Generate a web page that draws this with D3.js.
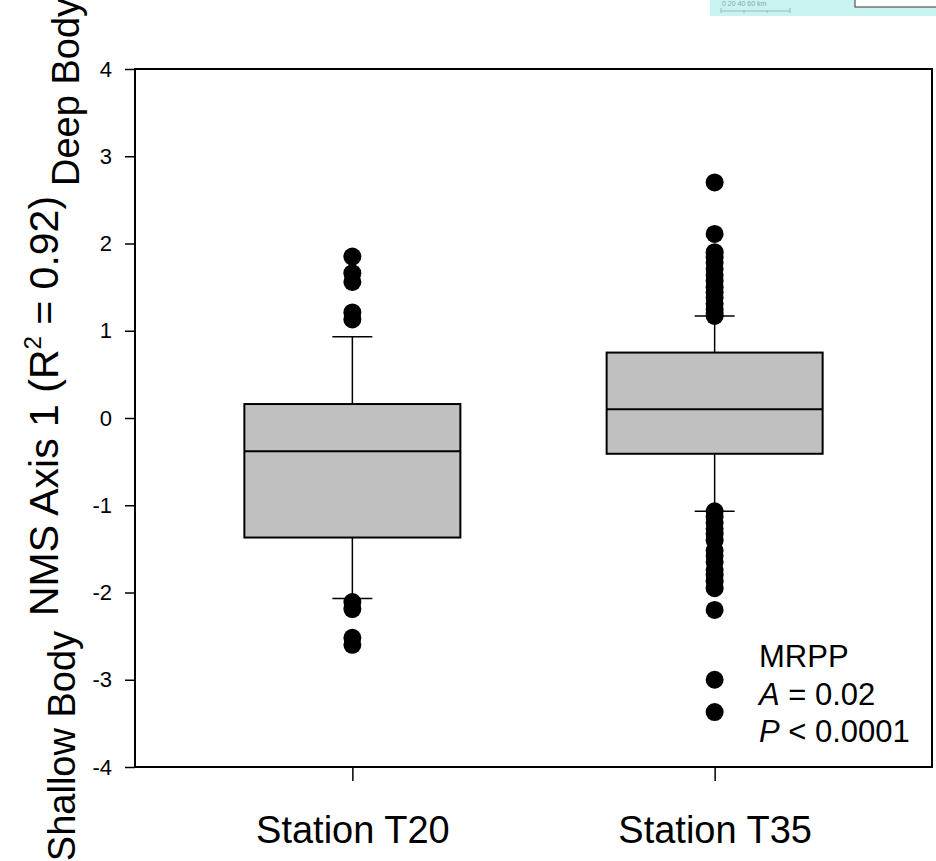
<!DOCTYPE html>
<html>
<head>
<meta charset="utf-8">
<script src="https://cdn.jsdelivr.net/npm/d3@7"></script>
<style>
  body { margin: 0; background: #fff; }
  svg { display: block; }
  text { font-family: "Liberation Sans", Arial, Helvetica, sans-serif; }
</style>
</head>
<body>
<div id="chart"></div>
<script>
// stations on the x axis
var stations = ["Station T20", "Station T35"];

// box statistics: [whiskerLow, q1, median, q3, whiskerHigh]
var boxT20 = [-2.07, -1.37, -0.38, 0.16, 0.93];
var boxT35 = [-1.07, -0.41, 0.10, 0.75, 1.17];

// outlying points
var outT20 = [1.85, 1.66, 1.56, 1.21, 1.13, -2.11, -2.19, -2.52, -2.60];
var outT35 = [2.70, 2.11, 1.90, 1.84, 1.78, 1.71, 1.64, 1.57, 1.50, 1.44,
              1.38, 1.31, 1.25, 1.20, 1.17,
              -1.07, -1.13, -1.20, -1.27, -1.33, -1.40, -1.52, -1.58,
              -1.65, -1.74, -1.80, -1.87, -1.95, -2.20, -3.00, -3.37];

var yTicks = [-4, -3, -2, -1, 0, 1, 2, 3, 4];

var W = 936, H = 861,
    plotL = 135, plotR = 932, plotT = 69, plotB = 767;

var svg = d3.select("#chart").append("svg")
    .attr("width", W)
    .attr("height", H);

// scrap of the neighbouring figure peeking in at the top right
var scrap = svg.append("g");
scrap.append("rect")
    .attr("x", 710).attr("y", 0).attr("width", 226).attr("height", 16)
    .attr("fill", "#c9f3f0");
scrap.append("rect")
    .attr("x", 855).attr("y", -2).attr("width", 84).attr("height", 9)
    .attr("fill", "#fff").attr("stroke", "#555").attr("stroke-width", 1.2);
scrap.append("text")
    .attr("x", 722).attr("y", 6)
    .style("font-size", "7px").attr("fill", "#8aa")
    .text("0   20   40   60 km");
scrap.append("path")
    .attr("d", "M721,11 H790 M721,8 V13 M744,10 V13 M767,10 V13 M790,8 V13")
    .attr("stroke", "#9bb").attr("fill", "none").attr("stroke-width", 1);

var y = d3.scaleLinear().domain([-4, 4]).range([plotB, plotT]);
var x = d3.scalePoint().domain(stations).range([plotL, plotR]).padding(0.6);

var yAxis = d3.axisLeft(y).tickValues(yTicks).tickSize(10).tickPadding(13)
    .tickFormat(function(d) { return String(d); });
var xAxis = d3.axisBottom(x).tickSize(14).tickPadding(35);

var gy = svg.append("g")
    .attr("transform", "translate(" + plotL + ",0)")
    .call(yAxis);
gy.select(".domain").remove();
gy.selectAll("line").attr("stroke", "#000").attr("stroke-width", 1.5);
gy.selectAll("text")
    .style("font-size", "22px")
    .attr("fill", "#000");

var gx = svg.append("g")
    .attr("transform", "translate(0," + plotB + ")")
    .call(xAxis);
gx.select(".domain").remove();
gx.selectAll("line").attr("stroke", "#000").attr("stroke-width", 1.5);
gx.selectAll("text")
    .style("font-size", "38px")
    .attr("fill", "#000");

// boxes
var boxes = [boxT20, boxT35];
var outliers = [outT20, outT35];
var halfW = 108, capW = 20;

boxes.forEach(function(b, i) {
    var cx = x(stations[i]);
    var g = svg.append("g");
    // whiskers
    g.append("line")
        .attr("x1", cx).attr("x2", cx)
        .attr("y1", y(b[3])).attr("y2", y(b[4]))
        .attr("stroke", "#000").attr("stroke-width", 1.5);
    g.append("line")
        .attr("x1", cx).attr("x2", cx)
        .attr("y1", y(b[0])).attr("y2", y(b[1]))
        .attr("stroke", "#000").attr("stroke-width", 1.5);
    [b[0], b[4]].forEach(function(v) {
        g.append("line")
            .attr("x1", cx - capW).attr("x2", cx + capW)
            .attr("y1", y(v)).attr("y2", y(v))
            .attr("stroke", "#000").attr("stroke-width", 1.5);
    });
    g.append("rect")
        .attr("x", cx - halfW).attr("width", 2 * halfW)
        .attr("y", y(b[3])).attr("height", y(b[1]) - y(b[3]))
        .attr("fill", "#c0c0c0").attr("stroke", "#000").attr("stroke-width", 2);
    g.append("line")
        .attr("x1", cx - halfW).attr("x2", cx + halfW)
        .attr("y1", y(b[2])).attr("y2", y(b[2]))
        .attr("stroke", "#000").attr("stroke-width", 2);

    g.selectAll("circle")
        .data(outliers[i])
        .enter()
        .append("circle")
        .attr("cx", cx)
        .attr("cy", function(d) { return y(d); })
        .attr("r", 9)
        .attr("fill", "#000");
});

// frame
svg.append("rect")
    .attr("x", plotL).attr("y", plotT)
    .attr("width", plotR - plotL).attr("height", plotB - plotT)
    .attr("fill", "none").attr("stroke", "#000").attr("stroke-width", 2);

// y axis titles
var title = svg.append("text")
    .attr("transform", "translate(58,406) rotate(-90)")
    .attr("text-anchor", "middle")
    .style("font-size", "41px")
    .attr("fill", "#000");
title.append("tspan").text("NMS Axis 1 (R");
title.append("tspan").attr("dy", -17).style("font-size", "24px").text("2");
title.append("tspan").attr("dy", 17).text(" = 0.92)");

svg.append("text")
    .attr("transform", "translate(79,92) rotate(-90)")
    .attr("text-anchor", "middle")
    .style("font-size", "38px")
    .attr("fill", "#000")
    .text("Deep Body");

svg.append("text")
    .attr("transform", "translate(75,746) rotate(-90)")
    .attr("text-anchor", "middle")
    .style("font-size", "38px")
    .attr("fill", "#000")
    .text("Shallow Body");

// MRPP note
var note = svg.append("text")
    .attr("x", 759).attr("y", 667)
    .style("font-size", "31px")
    .attr("fill", "#000");
note.append("tspan").attr("x", 759).text("MRPP");
var l2 = note.append("tspan").attr("x", 759).attr("dy", 37.5);
l2.append("tspan").style("font-style", "italic").text("A");
l2.append("tspan").text(" = 0.02");
var l3 = note.append("tspan").attr("x", 759).attr("dy", 37.5);
l3.append("tspan").style("font-style", "italic").text("P");
l3.append("tspan").text(" < 0.0001");
</script>
</body>
</html>
